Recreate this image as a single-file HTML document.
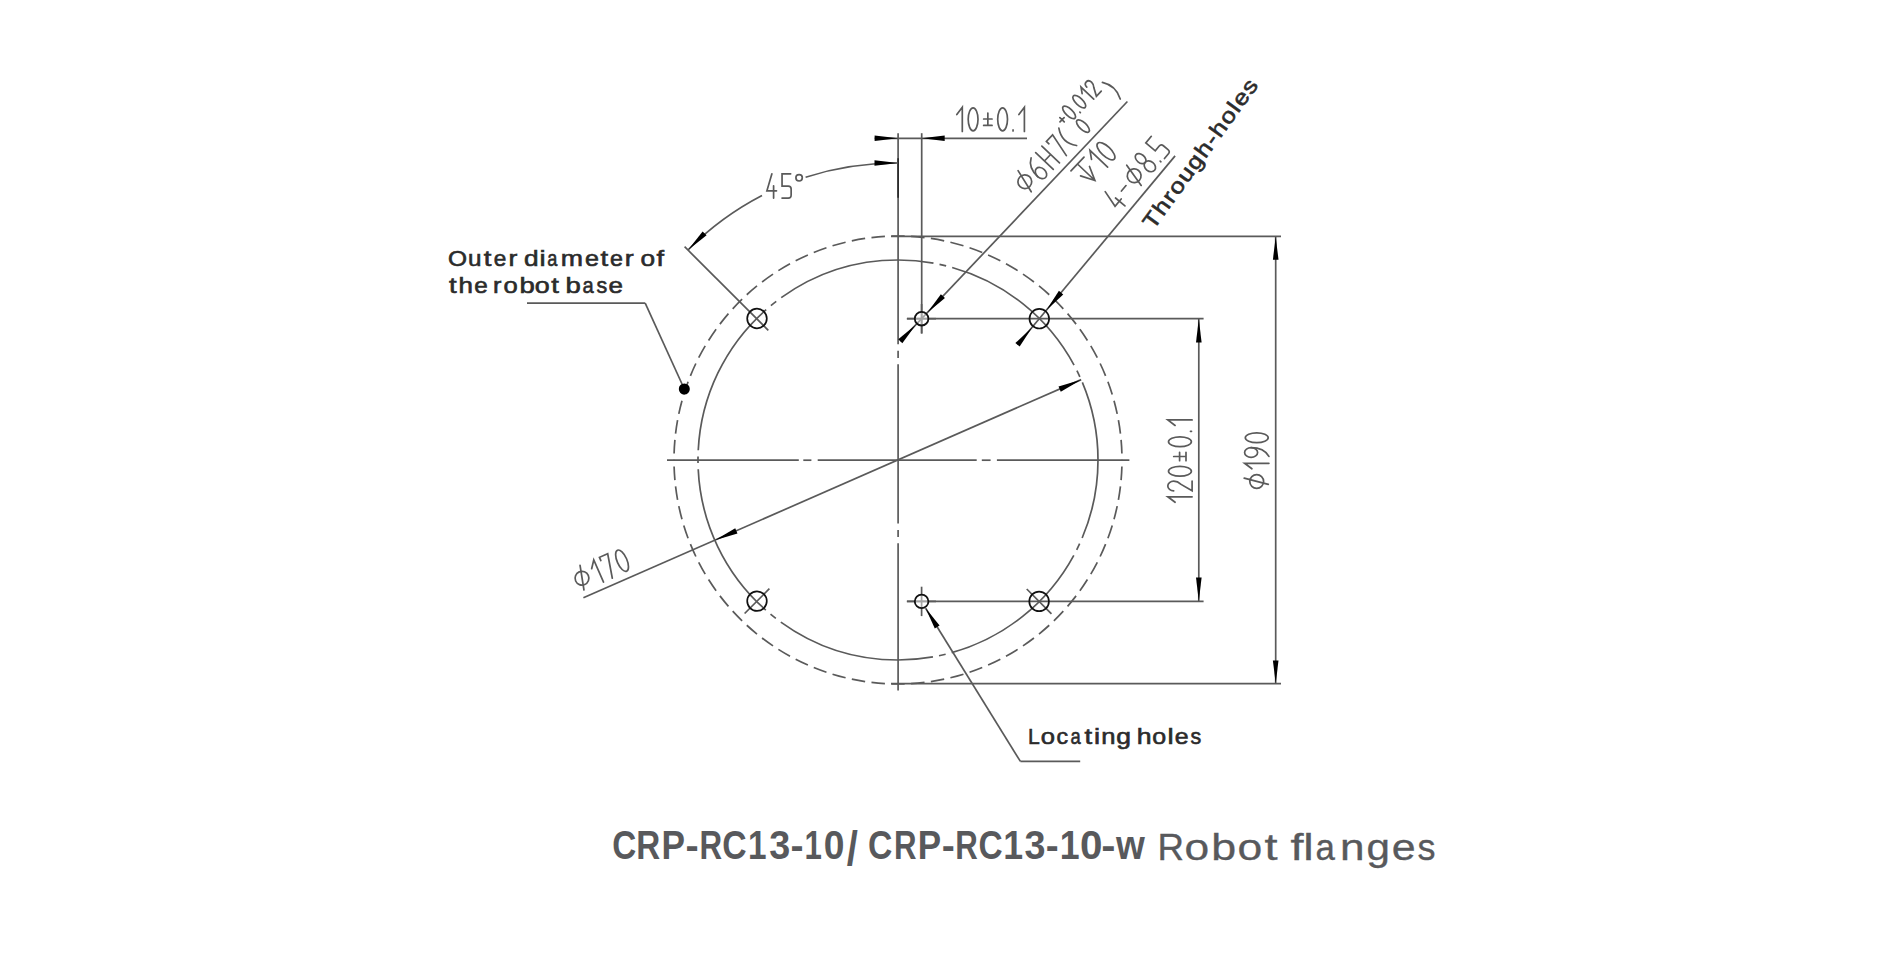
<!DOCTYPE html>
<html><head><meta charset="utf-8"><style>
html,body{margin:0;padding:0;background:#fff;width:1902px;height:956px;overflow:hidden}
svg{position:absolute;left:0;top:0}
.t{font-family:"Liberation Sans",sans-serif;}
</style></head><body>
<svg width="1902" height="956" viewBox="0 0 1902 956">
<rect width="1902" height="956" fill="#fff"/>
<path d="M898.0,236.0 A224,224 0 0 1 1122.0,460.0" fill="none" stroke="#5a5a5a" stroke-width="1.7" stroke-dasharray="13.5 6.4" stroke-dashoffset="6.75"/>
<path d="M898.0,236.0 A224,224 0 0 0 674.0,460.0" fill="none" stroke="#5a5a5a" stroke-width="1.7" stroke-dasharray="13.5 6.4" stroke-dashoffset="6.75"/>
<path d="M898.0,684.0 A224,224 0 0 0 1122.0,460.0" fill="none" stroke="#5a5a5a" stroke-width="1.7" stroke-dasharray="13.5 6.4" stroke-dashoffset="6.75"/>
<path d="M898.0,684.0 A224,224 0 0 1 674.0,460.0" fill="none" stroke="#5a5a5a" stroke-width="1.7" stroke-dasharray="13.5 6.4" stroke-dashoffset="6.75"/>
<circle cx="898.0" cy="460.0" r="200" fill="none" stroke="#5a5a5a" stroke-width="1.7" stroke-dasharray="160.320 6.2 6.8 6.2" stroke-dashoffset="80.160"/>
<line x1="667.00" y1="460.20" x2="798.80" y2="460.20" stroke="#5a5a5a" stroke-width="1.7" />
<line x1="803.30" y1="460.20" x2="811.40" y2="460.20" stroke="#5a5a5a" stroke-width="1.7" />
<line x1="817.70" y1="460.20" x2="976.70" y2="460.20" stroke="#5a5a5a" stroke-width="1.7" />
<line x1="981.80" y1="460.20" x2="990.60" y2="460.20" stroke="#5a5a5a" stroke-width="1.7" />
<line x1="996.90" y1="460.20" x2="1129.40" y2="460.20" stroke="#5a5a5a" stroke-width="1.7" />
<line x1="898.10" y1="133.20" x2="898.10" y2="344.20" stroke="#5a5a5a" stroke-width="1.7" />
<line x1="898.10" y1="350.80" x2="898.10" y2="358.00" stroke="#5a5a5a" stroke-width="1.7" />
<line x1="898.10" y1="364.30" x2="898.10" y2="523.50" stroke="#5a5a5a" stroke-width="1.7" />
<line x1="898.10" y1="530.10" x2="898.10" y2="537.00" stroke="#5a5a5a" stroke-width="1.7" />
<line x1="898.10" y1="543.30" x2="898.10" y2="690.50" stroke="#5a5a5a" stroke-width="1.7" />
<line x1="898.10" y1="158.20" x2="898.10" y2="197.80" stroke="#222" stroke-width="1.5" />
<line x1="921.70" y1="133.20" x2="921.70" y2="333.60" stroke="#5a5a5a" stroke-width="1.7" />
<line x1="874.60" y1="138.30" x2="1027.00" y2="138.30" stroke="#5a5a5a" stroke-width="1.7" />
<polygon points="898.10,138.30 874.60,141.10 874.60,135.50" fill="#000"/>
<polygon points="921.70,138.30 944.70,135.50 944.70,141.10" fill="#000"/>
<line x1="891.00" y1="236.40" x2="1281.00" y2="236.40" stroke="#5a5a5a" stroke-width="1.7" />
<line x1="891.00" y1="683.70" x2="1281.00" y2="683.70" stroke="#5a5a5a" stroke-width="1.7" />
<line x1="1275.70" y1="236.40" x2="1275.70" y2="683.70" stroke="#5a5a5a" stroke-width="1.7" />
<polygon points="1275.70,236.40 1278.50,259.70 1272.90,259.70" fill="#000"/>
<polygon points="1275.70,683.70 1272.90,660.40 1278.50,660.40" fill="#000"/>
<line x1="907.00" y1="318.70" x2="1203.60" y2="318.70" stroke="#5a5a5a" stroke-width="1.7" />
<line x1="907.00" y1="601.40" x2="1203.60" y2="601.40" stroke="#5a5a5a" stroke-width="1.7" />
<line x1="1198.80" y1="318.70" x2="1198.80" y2="601.40" stroke="#5a5a5a" stroke-width="1.7" />
<polygon points="1198.80,318.70 1201.60,342.50 1196.00,342.50" fill="#000"/>
<polygon points="1198.80,601.40 1196.00,577.60 1201.60,577.60" fill="#000"/>
<line x1="921.60" y1="304.00" x2="921.60" y2="333.40" stroke="#5a5a5a" stroke-width="1.7" />
<line x1="906.80" y1="318.70" x2="936.00" y2="318.70" stroke="#5a5a5a" stroke-width="1.7" />
<line x1="921.60" y1="586.70" x2="921.60" y2="616.10" stroke="#5a5a5a" stroke-width="1.7" />
<line x1="906.80" y1="601.40" x2="936.00" y2="601.40" stroke="#5a5a5a" stroke-width="1.7" />
<line x1="769.37" y1="588.72" x2="744.63" y2="613.48" stroke="#5a5a5a" stroke-width="1.7" />
<line x1="1026.74" y1="589.01" x2="1051.46" y2="613.79" stroke="#5a5a5a" stroke-width="1.7" />
<line x1="583.40" y1="597.80" x2="1081.20" y2="379.60" stroke="#5a5a5a" stroke-width="1.7" />
<polygon points="1081.18,379.71 1060.78,391.71 1058.53,386.58" fill="#000"/>
<polygon points="714.82,540.29 735.22,528.29 737.47,533.42" fill="#000"/>
<line x1="1127.40" y1="101.50" x2="900.28" y2="341.20" stroke="#5a5a5a" stroke-width="1.7" />
<polygon points="927.31,312.68 940.89,294.27 944.95,298.12" fill="#000"/>
<polygon points="915.89,324.72 902.31,343.13 898.25,339.28" fill="#000"/>
<line x1="1175.10" y1="155.90" x2="1017.52" y2="344.81" stroke="#5a5a5a" stroke-width="1.7" />
<polygon points="1046.35,310.25 1058.93,290.80 1063.23,294.38" fill="#000"/>
<polygon points="1032.25,327.15 1019.67,346.60 1015.37,343.02" fill="#000"/>
<path d="M687.99,249.99 A297,297 0 0 1 762,195.6" fill="none" stroke="#5a5a5a" stroke-width="1.7"/>
<path d="M805.6,177.2 A297,297 0 0 1 898.00,163.00" fill="none" stroke="#5a5a5a" stroke-width="1.7"/>
<polygon points="687.99,249.99 702.63,231.39 706.59,235.35" fill="#000"/>
<polygon points="898.00,163.00 874.50,165.80 874.50,160.20" fill="#000"/>
<line x1="684.60" y1="246.70" x2="768.30" y2="330.30" stroke="#5a5a5a" stroke-width="1.7" />
<line x1="527.00" y1="303.10" x2="645.20" y2="303.10" stroke="#5a5a5a" stroke-width="1.7" />
<line x1="645.20" y1="303.10" x2="684.30" y2="389.00" stroke="#5a5a5a" stroke-width="1.7" />
<circle cx="684.3" cy="389" r="5.5" fill="#000"/>
<line x1="925.61" y1="608.20" x2="1020.40" y2="761.40" stroke="#5a5a5a" stroke-width="1.7" />
<line x1="1020.40" y1="761.40" x2="1080.20" y2="761.40" stroke="#5a5a5a" stroke-width="1.7" />
<polygon points="925.50,608.03 939.57,625.44 934.80,628.38" fill="#000"/>
<circle cx="921.6" cy="318.7" r="6.8" fill="#fff" fill-opacity="0.45" stroke="#111" stroke-width="1.8"/>
<circle cx="921.6" cy="601.4" r="6.8" fill="#fff" fill-opacity="0.45" stroke="#111" stroke-width="1.8"/>
<circle cx="757" cy="318.5" r="9.8" fill="none" stroke="#111" stroke-width="1.7"/>
<circle cx="1039.3" cy="318.7" r="9.8" fill="none" stroke="#111" stroke-width="1.7"/>
<circle cx="757" cy="601.1" r="9.8" fill="none" stroke="#111" stroke-width="1.7"/>
<circle cx="1039.1" cy="601.4" r="9.8" fill="none" stroke="#111" stroke-width="1.7"/>
<g transform="translate(954.10 131.50) rotate(0.000)" fill="none" stroke="#5a5a5a" stroke-width="1.7" stroke-linecap="round"><path d="M2.70 -17.00 L8.20 -24.30 L8.20 0.00"/><ellipse cx="19.00" cy="-12.15" rx="4.90" ry="11.45"/><path d="M33.75 -18.40 L33.75 -6.10M29.55 -12.50 L37.95 -12.50M29.55 -6.10 L37.95 -6.10"/><ellipse cx="48.50" cy="-12.15" rx="4.90" ry="11.45"/><path d="M58.95 -0.60 L58.95 -1.60"/><path d="M64.80 -17.00 L70.30 -24.30 L70.30 0.00"/></g>
<g transform="translate(764.30 198.10) rotate(0.000)" fill="none" stroke="#5a5a5a" stroke-width="1.7" stroke-linecap="round"><path d="M7.60 -24.30 L2.60 -7.30 L12.20 -7.30M9.30 -12.30 L9.30 0.00"/><path d="M26.35 -24.30 L17.75 -24.30 L17.75 -12.00 L23.95 -12.00 Q26.85 -12.00 26.85 -9.00 L26.85 -3.00 Q26.85 0.00 23.95 0.00 L17.75 0.00 "/><ellipse cx="34.80" cy="-20.30" rx="3.20" ry="3.20"/></g>
<g transform="translate(1192.10 505.00) rotate(-90.000)" fill="none" stroke="#5a5a5a" stroke-width="1.7" stroke-linecap="round"><path d="M2.70 -17.00 L8.20 -24.30 L8.20 0.00"/><path d="M14.20 -18.40 A4.80 5.90 0 0 1 23.80 -18.40 Q23.80 -14.50 20.60 -11.00 L14.20 0.00 L24.00 0.00 "/><ellipse cx="33.75" cy="-12.15" rx="4.90" ry="11.45"/><path d="M48.50 -18.40 L48.50 -6.10M44.30 -12.50 L52.70 -12.50M44.30 -6.10 L52.70 -6.10"/><ellipse cx="63.25" cy="-12.15" rx="4.90" ry="11.45"/><path d="M73.70 -0.60 L73.70 -1.60"/><path d="M79.55 -17.00 L85.05 -24.30 L85.05 0.00"/></g>
<g transform="translate(1268.90 491.50) rotate(-90.000)" fill="none" stroke="#5a5a5a" stroke-width="1.7" stroke-linecap="round"><path d="M7.10 -0.60 L13.40 -24.70"/><ellipse cx="10.00" cy="-12.20" rx="6.90" ry="6.90"/><path d="M22.70 -17.00 L28.20 -24.30 L28.20 0.00"/><path d="M43.80 -17.80 Q43.80 -5.00 35.10 0.00 "/><ellipse cx="39.00" cy="-17.80" rx="4.80" ry="6.50"/><ellipse cx="53.75" cy="-12.15" rx="4.90" ry="11.45"/></g>
<g transform="translate(577.70 593.40) rotate(-23.669)" fill="none" stroke="#5a5a5a" stroke-width="1.7" stroke-linecap="round"><path d="M7.10 -0.60 L13.40 -24.70"/><ellipse cx="10.00" cy="-12.20" rx="6.90" ry="6.90"/><path d="M22.70 -17.00 L28.20 -24.30 L28.20 0.00"/><path d="M34.40 -20.80 L34.40 -24.30 L43.40 -24.30 L37.80 0.00"/><ellipse cx="53.75" cy="-12.15" rx="4.90" ry="11.45"/></g>
<g transform="translate(1122.25 96.62) rotate(-46.544)" fill="none" stroke="#5a5a5a" stroke-width="1.7" stroke-linecap="round"><path d="M-131.70 -0.60 L-125.40 -24.70"/><ellipse cx="-128.80" cy="-12.20" rx="6.90" ry="6.90"/><path d="M-107.20 -24.00 Q-116.20 -19.50 -116.20 -6.40 "/><ellipse cx="-111.40" cy="-6.40" rx="4.80" ry="6.40"/><path d="M-100.25 -24.30 L-100.25 0.00M-91.25 -24.30 L-91.25 0.00M-100.25 -12.20 L-91.25 -12.20"/><path d="M-84.65 -20.80 L-84.65 -24.30 L-75.65 -24.30 L-81.25 0.00"/><path d="M-66.50 -24.30 Q-75.70 -12.00 -66.90 0.50 "/><path d="M-61.22 -27.78 L-55.18 -27.78M-58.20 -30.81 L-58.20 -24.76"/><ellipse cx="-48.00" cy="-27.75" rx="3.53" ry="8.24"/><path d="M-40.40 -19.43 L-40.40 -20.15"/><ellipse cx="-33.20" cy="-27.75" rx="3.53" ry="8.24"/><path d="M-25.36 -31.24 L-21.40 -36.50 L-21.40 -19.00"/><path d="M-17.53 -32.25 A3.46 4.25 0 0 1 -10.62 -32.25 Q-10.62 -29.44 -12.92 -26.92 L-17.53 -19.00 L-10.47 -19.00 "/><ellipse cx="-48.40" cy="-8.30" rx="3.53" ry="8.24"/><path d="M-3.30 -24.20 Q3.90 -12.00 -3.10 0.20 "/></g>
<g transform="translate(1149.72 122.65) rotate(-46.544)" fill="none" stroke="#5a5a5a" stroke-width="1.7" stroke-linecap="round"><path d="M-89.20 -24.00 L-70.20 -24.00M-79.70 -24.00 L-79.70 0.00M-86.20 -13.60 L-79.70 0.00 L-73.20 -13.60"/><path d="M-66.70 -17.00 L-61.20 -24.30 L-61.20 0.00"/><ellipse cx="-50.80" cy="-12.15" rx="4.90" ry="11.45"/></g>
<g transform="translate(1170.11 151.74) rotate(-50.167)" fill="none" stroke="#5a5a5a" stroke-width="1.7" stroke-linecap="round"><path d="M-72.20 -24.30 L-77.20 -7.30 L-67.60 -7.30M-70.50 -12.30 L-70.50 0.00"/><path d="M-61.40 -12.20 L-54.20 -12.20"/><path d="M-44.40 -0.60 L-38.10 -24.70"/><ellipse cx="-41.50" cy="-12.20" rx="6.90" ry="6.90"/><ellipse cx="-24.20" cy="-18.20" rx="4.10" ry="6.10"/><ellipse cx="-24.20" cy="-6.20" rx="4.80" ry="6.20"/><path d="M-13.60 -0.60 L-13.60 -1.60"/><path d="M-0.20 -24.30 L-8.80 -24.30 L-8.80 -12.00 L-2.60 -12.00 Q0.30 -12.00 0.30 -9.00 L0.30 -3.00 Q0.30 0.00 -2.60 0.00 L-8.80 0.00 "/></g><text transform="translate(1153.46 230.61) rotate(-54) scale(1.16 1)" font-family="Liberation Sans, sans-serif" font-weight="normal" font-size="21.8" fill="#2b2b2b" stroke="#2b2b2b" stroke-width="0.6" textLength="154.74" lengthAdjust="spacing">Through-holes</text>
<text transform="translate(612.37 858.6) scale(0.8321 1)" font-family="Liberation Sans, sans-serif" font-weight="bold" font-size="40" fill="#58595c">C</text>
<text transform="translate(636.36 858.6) scale(0.8300 1)" font-family="Liberation Sans, sans-serif" font-weight="bold" font-size="40" fill="#58595c">R</text>
<text transform="translate(661.62 858.6) scale(0.8805 1)" font-family="Liberation Sans, sans-serif" font-weight="bold" font-size="40" fill="#58595c">P</text>
<text transform="translate(685.62 858.6) scale(0.9901 1)" font-family="Liberation Sans, sans-serif" font-weight="bold" font-size="40" fill="#58595c">-</text>
<text transform="translate(699.49 858.6) scale(0.7826 1)" font-family="Liberation Sans, sans-serif" font-weight="bold" font-size="40" fill="#58595c">R</text>
<text transform="translate(722.25 858.6) scale(0.8435 1)" font-family="Liberation Sans, sans-serif" font-weight="bold" font-size="40" fill="#58595c">C</text>
<text transform="translate(748.02 858.6) scale(0.8333 1)" font-family="Liberation Sans, sans-serif" font-weight="bold" font-size="40" fill="#58595c">1</text>
<text transform="translate(769.15 858.6) scale(0.9447 1)" font-family="Liberation Sans, sans-serif" font-weight="bold" font-size="40" fill="#58595c">3</text>
<text transform="translate(790.53 858.6) scale(0.9802 1)" font-family="Liberation Sans, sans-serif" font-weight="bold" font-size="40" fill="#58595c">-</text>
<text transform="translate(804.40 858.6) scale(0.7800 1)" font-family="Liberation Sans, sans-serif" font-weight="bold" font-size="40" fill="#58595c">1</text>
<text transform="translate(823.71 858.6) scale(0.9316 1)" font-family="Liberation Sans, sans-serif" font-weight="bold" font-size="40" fill="#58595c">0</text>
<text transform="translate(846.70 865.20) scale(1.0000 1.22)" font-family="Liberation Sans, sans-serif" font-weight="bold" font-size="40" fill="#58595c">/</text>
<text transform="translate(868.05 858.6) scale(0.8435 1)" font-family="Liberation Sans, sans-serif" font-weight="bold" font-size="40" fill="#58595c">C</text>
<text transform="translate(893.88 858.6) scale(0.7800 1)" font-family="Liberation Sans, sans-serif" font-weight="bold" font-size="40" fill="#58595c">R</text>
<text transform="translate(917.83 858.6) scale(0.8761 1)" font-family="Liberation Sans, sans-serif" font-weight="bold" font-size="40" fill="#58595c">P</text>
<text transform="translate(941.83 858.6) scale(0.9802 1)" font-family="Liberation Sans, sans-serif" font-weight="bold" font-size="40" fill="#58595c">-</text>
<text transform="translate(955.23 858.6) scale(0.7800 1)" font-family="Liberation Sans, sans-serif" font-weight="bold" font-size="40" fill="#58595c">R</text>
<text transform="translate(978.46 858.6) scale(0.8359 1)" font-family="Liberation Sans, sans-serif" font-weight="bold" font-size="40" fill="#58595c">C</text>
<text transform="translate(1003.37 858.6) scale(0.8925 1)" font-family="Liberation Sans, sans-serif" font-weight="bold" font-size="40" fill="#58595c">1</text>
<text transform="translate(1024.45 858.6) scale(0.9447 1)" font-family="Liberation Sans, sans-serif" font-weight="bold" font-size="40" fill="#58595c">3</text>
<text transform="translate(1045.65 858.6) scale(0.9703 1)" font-family="Liberation Sans, sans-serif" font-weight="bold" font-size="40" fill="#58595c">-</text>
<text transform="translate(1059.67 858.6) scale(0.8925 1)" font-family="Liberation Sans, sans-serif" font-weight="bold" font-size="40" fill="#58595c">1</text>
<text transform="translate(1079.98 858.6) scale(1.0105 1)" font-family="Liberation Sans, sans-serif" font-weight="bold" font-size="40" fill="#58595c">0</text>
<text transform="translate(1101.29 858.6) scale(1.0693 1)" font-family="Liberation Sans, sans-serif" font-weight="bold" font-size="40" fill="#58595c">-</text>
<text transform="translate(1116.09 858.6) scale(0.9265 1)" font-family="Liberation Sans, sans-serif" font-weight="bold" font-size="40" fill="#58595c">w</text>
<text transform="translate(1157.45 860.0) scale(0.9789 1)" font-family="Liberation Sans, sans-serif" font-weight="normal" font-size="37.5" fill="#58595c" stroke="#58595c" stroke-width="0.35">R</text>
<text transform="translate(1184.59 860.0) scale(1.1824 1)" font-family="Liberation Sans, sans-serif" font-weight="normal" font-size="37.5" fill="#58595c" stroke="#58595c" stroke-width="0.35">o</text>
<text transform="translate(1211.36 860.0) scale(1.1941 1)" font-family="Liberation Sans, sans-serif" font-weight="normal" font-size="37.5" fill="#58595c" stroke="#58595c" stroke-width="0.35">b</text>
<text transform="translate(1237.48 860.0) scale(1.1880 1)" font-family="Liberation Sans, sans-serif" font-weight="normal" font-size="37.5" fill="#58595c" stroke="#58595c" stroke-width="0.35">o</text>
<text transform="translate(1264.57 860.0) scale(1.2500 1)" font-family="Liberation Sans, sans-serif" font-weight="normal" font-size="37.5" fill="#58595c" stroke="#58595c" stroke-width="0.35">t</text>
<text transform="translate(1290.39 860.0) scale(1.2500 1)" font-family="Liberation Sans, sans-serif" font-weight="normal" font-size="37.5" fill="#58595c" stroke="#58595c" stroke-width="0.35">f</text>
<text transform="translate(1303.14 860.0) scale(1.2500 1)" font-family="Liberation Sans, sans-serif" font-weight="normal" font-size="37.5" fill="#58595c" stroke="#58595c" stroke-width="0.35">l</text>
<text transform="translate(1315.49 860.0) scale(0.9288 1)" font-family="Liberation Sans, sans-serif" font-weight="normal" font-size="37.5" fill="#58595c" stroke="#58595c" stroke-width="0.35">a</text>
<text transform="translate(1340.00 860.0) scale(1.1771 1)" font-family="Liberation Sans, sans-serif" font-weight="normal" font-size="37.5" fill="#58595c" stroke="#58595c" stroke-width="0.35">n</text>
<text transform="translate(1366.49 860.0) scale(1.1230 1)" font-family="Liberation Sans, sans-serif" font-weight="normal" font-size="37.5" fill="#58595c" stroke="#58595c" stroke-width="0.35">g</text>
<text transform="translate(1391.65 860.0) scale(1.1433 1)" font-family="Liberation Sans, sans-serif" font-weight="normal" font-size="37.5" fill="#58595c" stroke="#58595c" stroke-width="0.35">e</text>
<text transform="translate(1417.38 860.0) scale(0.9600 1)" font-family="Liberation Sans, sans-serif" font-weight="normal" font-size="37.5" fill="#58595c" stroke="#58595c" stroke-width="0.35">s</text>
<text transform="translate(448.04 266.2) scale(1.1122 1)" font-family="Liberation Sans, sans-serif" font-weight="normal" font-size="22" fill="#2b2b2b" stroke="#2b2b2b" stroke-width="0.6">O</text>
<text transform="translate(467.92 266.2) scale(1.1016 1)" font-family="Liberation Sans, sans-serif" font-weight="normal" font-size="22" fill="#2b2b2b" stroke="#2b2b2b" stroke-width="0.6">u</text>
<text transform="translate(483.73 266.2) scale(1.2500 1)" font-family="Liberation Sans, sans-serif" font-weight="normal" font-size="22" fill="#2b2b2b" stroke="#2b2b2b" stroke-width="0.6">t</text>
<text transform="translate(493.64 266.2) scale(1.0251 1)" font-family="Liberation Sans, sans-serif" font-weight="normal" font-size="22" fill="#2b2b2b" stroke="#2b2b2b" stroke-width="0.6">e</text>
<text transform="translate(508.52 266.2) scale(1.2000 1)" font-family="Liberation Sans, sans-serif" font-weight="normal" font-size="22" fill="#2b2b2b" stroke="#2b2b2b" stroke-width="0.6">r</text>
<text transform="translate(523.99 266.2) scale(1.1919 1)" font-family="Liberation Sans, sans-serif" font-weight="normal" font-size="22" fill="#2b2b2b" stroke="#2b2b2b" stroke-width="0.6">d</text>
<text transform="translate(539.59 266.2) scale(1.2500 1)" font-family="Liberation Sans, sans-serif" font-weight="normal" font-size="22" fill="#2b2b2b" stroke="#2b2b2b" stroke-width="0.6">i</text>
<text transform="translate(547.33 266.2) scale(0.8248 1)" font-family="Liberation Sans, sans-serif" font-weight="normal" font-size="22" fill="#2b2b2b" stroke="#2b2b2b" stroke-width="0.6">a</text>
<text transform="translate(560.80 266.2) scale(1.2143 1)" font-family="Liberation Sans, sans-serif" font-weight="normal" font-size="22" fill="#2b2b2b" stroke="#2b2b2b" stroke-width="0.6">m</text>
<text transform="translate(585.03 266.2) scale(1.1412 1)" font-family="Liberation Sans, sans-serif" font-weight="normal" font-size="22" fill="#2b2b2b" stroke="#2b2b2b" stroke-width="0.6">e</text>
<text transform="translate(600.49 266.2) scale(1.2478 1)" font-family="Liberation Sans, sans-serif" font-weight="normal" font-size="22" fill="#2b2b2b" stroke="#2b2b2b" stroke-width="0.6">t</text>
<text transform="translate(609.91 266.2) scale(1.0542 1)" font-family="Liberation Sans, sans-serif" font-weight="normal" font-size="22" fill="#2b2b2b" stroke="#2b2b2b" stroke-width="0.6">e</text>
<text transform="translate(624.79 266.2) scale(1.2182 1)" font-family="Liberation Sans, sans-serif" font-weight="normal" font-size="22" fill="#2b2b2b" stroke="#2b2b2b" stroke-width="0.6">r</text>
<text transform="translate(640.38 266.2) scale(1.1929 1)" font-family="Liberation Sans, sans-serif" font-weight="normal" font-size="22" fill="#2b2b2b" stroke="#2b2b2b" stroke-width="0.6">o</text>
<text transform="translate(656.49 266.2) scale(1.2350 1)" font-family="Liberation Sans, sans-serif" font-weight="normal" font-size="22" fill="#2b2b2b" stroke="#2b2b2b" stroke-width="0.6">f</text>
<text transform="translate(449.08 293.0) scale(1.2500 1)" font-family="Liberation Sans, sans-serif" font-weight="normal" font-size="22" fill="#2b2b2b" stroke="#2b2b2b" stroke-width="0.6">t</text>
<text transform="translate(458.48 293.0) scale(1.1797 1)" font-family="Liberation Sans, sans-serif" font-weight="normal" font-size="22" fill="#2b2b2b" stroke="#2b2b2b" stroke-width="0.6">h</text>
<text transform="translate(474.27 293.0) scale(1.1025 1)" font-family="Liberation Sans, sans-serif" font-weight="normal" font-size="22" fill="#2b2b2b" stroke="#2b2b2b" stroke-width="0.6">e</text>
<text transform="translate(493.10 293.0) scale(1.1455 1)" font-family="Liberation Sans, sans-serif" font-weight="normal" font-size="22" fill="#2b2b2b" stroke="#2b2b2b" stroke-width="0.6">r</text>
<text transform="translate(503.41 293.0) scale(1.1640 1)" font-family="Liberation Sans, sans-serif" font-weight="normal" font-size="22" fill="#2b2b2b" stroke="#2b2b2b" stroke-width="0.6">o</text>
<text transform="translate(519.42 293.0) scale(1.2500 1)" font-family="Liberation Sans, sans-serif" font-weight="normal" font-size="22" fill="#2b2b2b" stroke="#2b2b2b" stroke-width="0.6">b</text>
<text transform="translate(534.86 293.0) scale(1.2217 1)" font-family="Liberation Sans, sans-serif" font-weight="normal" font-size="22" fill="#2b2b2b" stroke="#2b2b2b" stroke-width="0.6">o</text>
<text transform="translate(551.33 293.0) scale(1.2500 1)" font-family="Liberation Sans, sans-serif" font-weight="normal" font-size="22" fill="#2b2b2b" stroke="#2b2b2b" stroke-width="0.6">t</text>
<text transform="translate(565.52 293.0) scale(1.2500 1)" font-family="Liberation Sans, sans-serif" font-weight="normal" font-size="22" fill="#2b2b2b" stroke="#2b2b2b" stroke-width="0.6">b</text>
<text transform="translate(582.45 293.0) scale(0.9135 1)" font-family="Liberation Sans, sans-serif" font-weight="normal" font-size="22" fill="#2b2b2b" stroke="#2b2b2b" stroke-width="0.6">a</text>
<text transform="translate(596.61 293.0) scale(0.9766 1)" font-family="Liberation Sans, sans-serif" font-weight="normal" font-size="22" fill="#2b2b2b" stroke="#2b2b2b" stroke-width="0.6">s</text>
<text transform="translate(608.60 293.0) scale(1.1799 1)" font-family="Liberation Sans, sans-serif" font-weight="normal" font-size="22" fill="#2b2b2b" stroke="#2b2b2b" stroke-width="0.6">e</text>
<text transform="translate(1028.06 743.5) scale(0.9607 1)" font-family="Liberation Sans, sans-serif" font-weight="normal" font-size="22" fill="#2b2b2b" stroke="#2b2b2b" stroke-width="0.6">L</text>
<text transform="translate(1040.81 743.5) scale(1.1640 1)" font-family="Liberation Sans, sans-serif" font-weight="normal" font-size="22" fill="#2b2b2b" stroke="#2b2b2b" stroke-width="0.6">o</text>
<text transform="translate(1056.51 743.5) scale(1.0571 1)" font-family="Liberation Sans, sans-serif" font-weight="normal" font-size="22" fill="#2b2b2b" stroke="#2b2b2b" stroke-width="0.6">c</text>
<text transform="translate(1070.62 743.5) scale(0.8337 1)" font-family="Liberation Sans, sans-serif" font-weight="normal" font-size="22" fill="#2b2b2b" stroke="#2b2b2b" stroke-width="0.6">a</text>
<text transform="translate(1084.38 743.5) scale(1.2500 1)" font-family="Liberation Sans, sans-serif" font-weight="normal" font-size="22" fill="#2b2b2b" stroke="#2b2b2b" stroke-width="0.6">t</text>
<text transform="translate(1093.99 743.5) scale(1.2500 1)" font-family="Liberation Sans, sans-serif" font-weight="normal" font-size="22" fill="#2b2b2b" stroke="#2b2b2b" stroke-width="0.6">i</text>
<text transform="translate(1101.17 743.5) scale(1.1619 1)" font-family="Liberation Sans, sans-serif" font-weight="normal" font-size="22" fill="#2b2b2b" stroke="#2b2b2b" stroke-width="0.6">n</text>
<text transform="translate(1116.18 743.5) scale(1.2020 1)" font-family="Liberation Sans, sans-serif" font-weight="normal" font-size="22" fill="#2b2b2b" stroke="#2b2b2b" stroke-width="0.6">g</text>
<text transform="translate(1136.63 743.5) scale(1.2121 1)" font-family="Liberation Sans, sans-serif" font-weight="normal" font-size="22" fill="#2b2b2b" stroke="#2b2b2b" stroke-width="0.6">h</text>
<text transform="translate(1152.24 743.5) scale(1.1352 1)" font-family="Liberation Sans, sans-serif" font-weight="normal" font-size="22" fill="#2b2b2b" stroke="#2b2b2b" stroke-width="0.6">o</text>
<text transform="translate(1167.59 743.5) scale(1.2500 1)" font-family="Liberation Sans, sans-serif" font-weight="normal" font-size="22" fill="#2b2b2b" stroke="#2b2b2b" stroke-width="0.6">l</text>
<text transform="translate(1174.64 743.5) scale(1.1315 1)" font-family="Liberation Sans, sans-serif" font-weight="normal" font-size="22" fill="#2b2b2b" stroke="#2b2b2b" stroke-width="0.6">e</text>
<text transform="translate(1190.41 743.5) scale(0.9766 1)" font-family="Liberation Sans, sans-serif" font-weight="normal" font-size="22" fill="#2b2b2b" stroke="#2b2b2b" stroke-width="0.6">s</text>
</svg>
</body></html>
